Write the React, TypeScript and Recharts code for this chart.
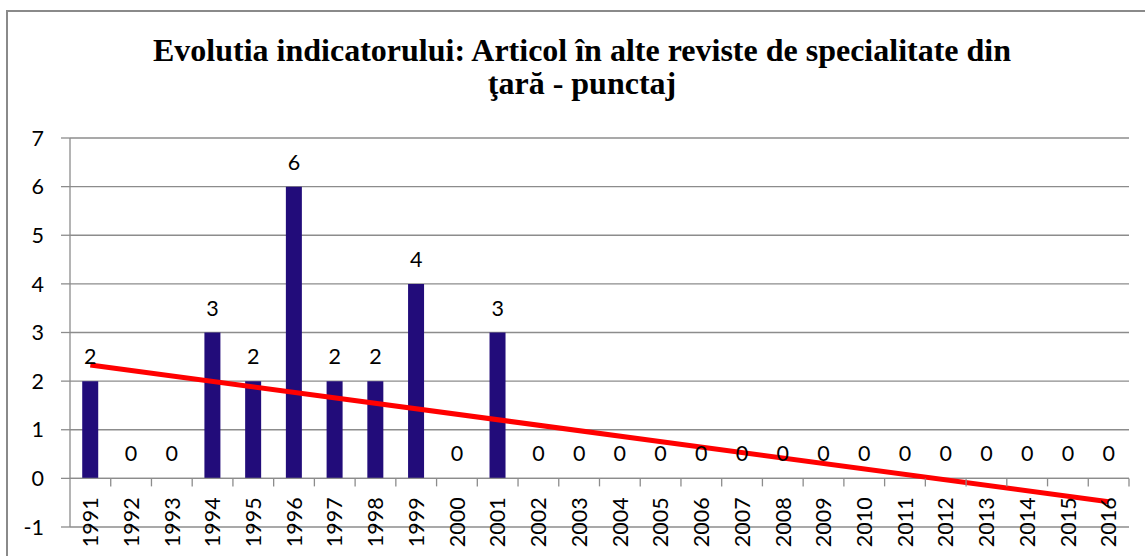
import React from 'react';
import {
  ComposedChart,
  Bar,
  Line,
  XAxis,
  YAxis,
  CartesianGrid,
  LabelList,
  ReferenceLine,
} from 'recharts';

const years = [
  '1991', '1992', '1993', '1994', '1995', '1996', '1997', '1998', '1999', '2000',
  '2001', '2002', '2003', '2004', '2005', '2006', '2007', '2008', '2009', '2010',
  '2011', '2012', '2013', '2014', '2015', '2016',
];
const points = [2, 0, 0, 3, 2, 6, 2, 2, 4, 0, 3, 0, 0, 0, 0, 0, 0, 0, 0, 0, 0, 0, 0, 0, 0, 0];
// linear trendline (starts ~2.33 at 1991, ends ~-0.48 at 2016)
const trend: (number | null)[] = [
  2.33, null, null, null, null, null, null, null, null, null, null, null, null,
  null, null, null, null, null, null, null, null, null, null, null, null, -0.48,
];
const yTicks = [-1, 0, 1, 2, 3, 4, 5, 6, 7];

const data = years.map((year, i) => ({ year, points: points[i], trend: trend[i] }));

const W = 1145;
const H = 556;
const M = { top: 138, right: 16, bottom: 29, left: 0 };
const Y_W = 70;
const PLOT_W = W - M.left - M.right - Y_W;
const BAND = PLOT_W / years.length;

const FONT = "Lato, 'Open Sans', sans-serif";
const GRID = '#8c8c8c';
const BAR = '#220c7a';

const YearLabel = (p: any) => {
  const cx = p.x;
  const zeroY = p.y;
  const ty = zeroY + 19;
  return (
    <g>
      <line x1={cx + BAND / 2} x2={cx + BAND / 2} y1={zeroY} y2={zeroY + 8} stroke={GRID} strokeWidth={1.3} />
      <text
        x={cx}
        y={ty}
        transform={`rotate(-90 ${cx} ${ty})`}
        textAnchor="end"
        dy="0.36em"
        fontFamily={FONT}
        fontSize={21.5}
        fill="#000"
      >
        {p.value}
      </text>
    </g>
  );
};

const baseline = () => 0;

export default function App() {
  return (
    <div style={{ position: 'absolute', left: 0, top: 0, width: W, height: H, overflow: 'hidden', background: '#fff' }}>
      <div
        style={{
          position: 'absolute',
          left: 6,
          top: 10,
          width: 1300,
          height: 700,
          border: '2px solid #8a8a8a',
          boxSizing: 'border-box',
        }}
      />
      <div
        style={{
          position: 'absolute',
          left: 0,
          top: 34,
          width: 1164,
          textAlign: 'center',
          fontFamily: "'Liberation Serif', 'Times New Roman', serif",
          fontWeight: 'bold',
          fontSize: 32,
          lineHeight: '33px',
          color: '#000',
        }}
      >
        Evolutia indicatorului: Articol în alte reviste de specialitate din
        <br />
        ţară - punctaj
      </div>
      <div style={{ position: 'absolute', left: 0, top: 0 }}>
        <ComposedChart width={W} height={H} data={data} margin={M} barCategoryGap="30%">
          <CartesianGrid vertical={false} stroke={GRID} strokeWidth={1.3} />
          <XAxis dataKey="year" hide />
          <YAxis
            width={Y_W}
            domain={[-1, 7]}
            ticks={yTicks}
            interval={0}
            allowDataOverflow
            axisLine={{ stroke: GRID, strokeWidth: 1.3 }}
            tickLine={{ stroke: GRID, strokeWidth: 1.3 }}
            tickSize={9}
            tickMargin={17}
            tick={{ fontFamily: FONT, fontSize: 21.5, fill: '#000' }}
          />
          <ReferenceLine y={0} stroke={GRID} strokeWidth={1.3} />
          <Bar dataKey="points" fill={BAR} isAnimationActive={false} />
          <Line
            dataKey="points"
            stroke="none"
            dot={false}
            activeDot={false}
            isAnimationActive={false}
          >
            <LabelList
              dataKey="points"
              position="top"
              offset={17}
              style={{ fontFamily: FONT, fontSize: 21.5, fill: '#000' }}
            />
          </Line>
          <Line
            dataKey={baseline}
            stroke="none"
            dot={false}
            activeDot={false}
            isAnimationActive={false}
          >
            <LabelList dataKey="year" content={YearLabel} />
          </Line>
          <Line
            dataKey="trend"
            stroke="#ff0000"
            strokeWidth={5}
            dot={false}
            activeDot={false}
            connectNulls
            isAnimationActive={false}
          />
        </ComposedChart>
      </div>
    </div>
  );
}
